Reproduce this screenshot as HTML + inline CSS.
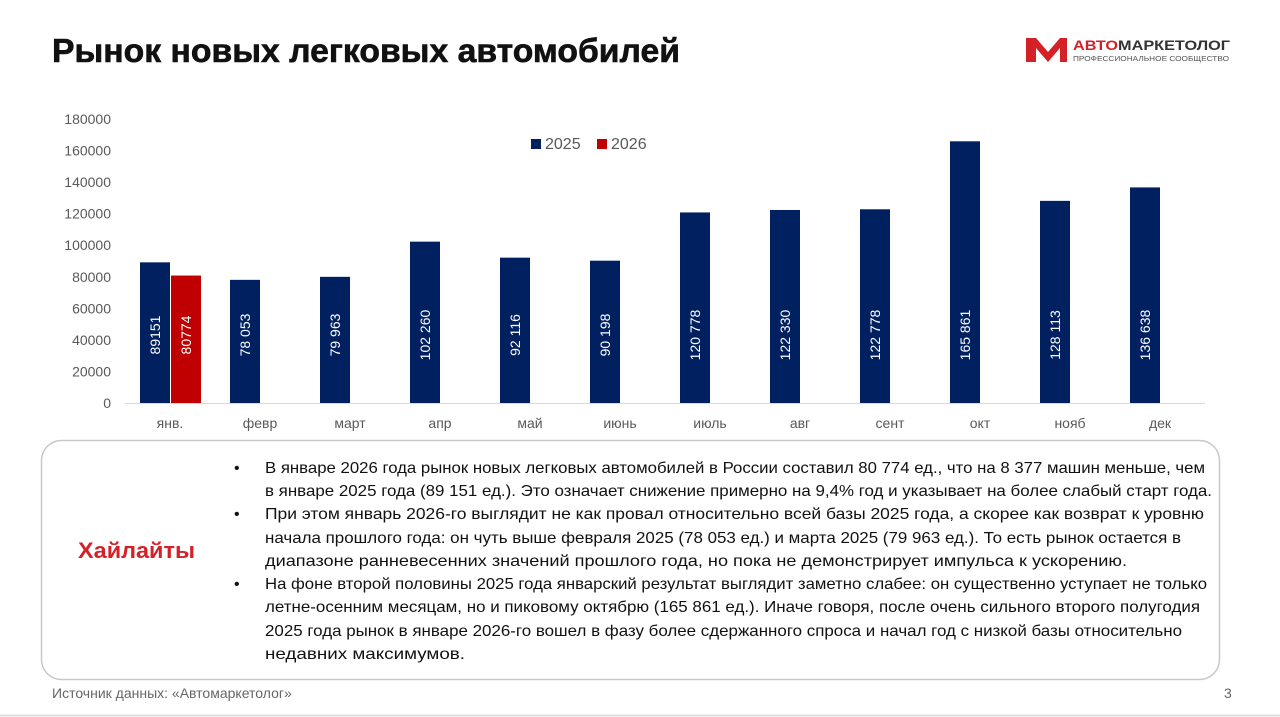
<!DOCTYPE html>
<html><head><meta charset="utf-8"><style>
html,body{margin:0;padding:0;background:#fff;}
svg{display:block;font-family:"Liberation Sans","DejaVu Sans",sans-serif;}
</style></head><body>
<svg id="s" width="1280" height="717" viewBox="0 0 1280 717" xmlns="http://www.w3.org/2000/svg">
<text x="52" y="62" font-size="33" font-weight="bold" fill="#111" stroke="#111" stroke-width="0.6" textLength="628" lengthAdjust="spacingAndGlyphs">Рынок новых легковых автомобилей</text>
<g>
<path d="M1026 38 L1036 38 L1048 52 L1060 38 L1067 38 L1067 62 L1060 62 L1060 48 L1048 62 L1036 48 L1036 62 L1026 62 Z" fill="#d42027"/>
<text x="1073" y="50" font-size="14" font-weight="bold" fill="#333" textLength="157" lengthAdjust="spacingAndGlyphs"><tspan fill="#d42027">АВТО</tspan>МАРКЕТОЛОГ</text>
<text x="1073" y="61" font-size="7" fill="#555" textLength="156" lengthAdjust="spacingAndGlyphs">ПРОФЕССИОНАЛЬНОЕ СООБЩЕСТВО</text>
</g>
<g id="chart"></g>
<rect x="41.5" y="440.5" width="1178" height="239" rx="20" fill="none" stroke="#c8c8c8" stroke-width="1.5"/>
<text x="78" y="558" font-size="22" font-weight="bold" fill="#d42027" textLength="117" lengthAdjust="spacingAndGlyphs">Хайлайты</text>
<g font-size="16" fill="#111">
<text x="234" y="473">•</text><text x="265" y="473" textLength="940" lengthAdjust="spacingAndGlyphs">В январе 2026 года рынок новых легковых автомобилей в России составил 80 774 ед., что на 8 377 машин меньше, чем</text>
<text x="265" y="496" textLength="947" lengthAdjust="spacingAndGlyphs">в январе 2025 года (89 151 ед.). Это означает снижение примерно на 9,4% год и указывает на более слабый старт года.</text>
<text x="234" y="519">•</text><text x="265" y="519" textLength="939" lengthAdjust="spacingAndGlyphs">При этом январь 2026-го выглядит не как провал относительно всей базы 2025 года, а скорее как возврат к уровню</text>
<text x="265" y="543" textLength="916" lengthAdjust="spacingAndGlyphs">начала прошлого года: он чуть выше февраля 2025 (78 053 ед.) и марта 2025 (79 963 ед.). То есть рынок остается в</text>
<text x="265" y="566" textLength="862" lengthAdjust="spacingAndGlyphs">диапазоне ранневесенних значений прошлого года, но пока не демонстрирует импульса к ускорению.</text>
<text x="234" y="589">•</text><text x="265" y="589" textLength="942" lengthAdjust="spacingAndGlyphs">На фоне второй половины 2025 года январский результат выглядит заметно слабее: он существенно уступает не только</text>
<text x="265" y="612" textLength="935" lengthAdjust="spacingAndGlyphs">летне-осенним месяцам, но и пиковому октябрю (165 861 ед.). Иначе говоря, после очень сильного второго полугодия</text>
<text x="265" y="636" textLength="917" lengthAdjust="spacingAndGlyphs">2025 года рынок в январе 2026-го вошел в фазу более сдержанного спроса и начал год с низкой базы относительно</text>
<text x="265" y="659" textLength="200" lengthAdjust="spacingAndGlyphs">недавних максимумов.</text>
</g>
<text x="52" y="698" font-size="14" fill="#666">Источник данных: «Автомаркетолог»</text>
<text x="1224" y="698" font-size="14" fill="#666">3</text>
<line x1="0" y1="715.5" x2="1280" y2="715.5" stroke="#ddd" stroke-width="2"/>
</svg>
<script>
const categories=["янв.","февр","март","апр","май","июнь","июль","авг","сент","окт","нояб","дек"];
const values2025=[89151,78053,79963,102260,92116,90198,120778,122330,122778,165861,128113,136638];
const labels2025=["89151","78 053","79 963","102 260","92 116","90 198","120 778","122 330","122 778","165 861","128 113","136 638"];
const values2026=[80774];
const labels2026=["80774"];
const yTicks=[0,20000,40000,60000,80000,100000,120000,140000,160000,180000];
const NS="http://www.w3.org/2000/svg";
const g=document.getElementById('chart');
const x0=125,x1=1205,y0=403,yTop=119,yMax=180000;
const band=(x1-x0)/categories.length;
const yS=v=>y0-(v/yMax)*(y0-yTop);
const xC=i=>x0+band*(i+0.5);
function mk(t,a){const e=document.createElementNS(NS,t);for(const k in a)e.setAttribute(k,a[k]);g.appendChild(e);return e;}
yTicks.forEach(t=>{const e=mk('text',{x:111,y:yS(t)+5,'text-anchor':'end','font-size':14,fill:'#595959'});e.textContent=t;

});
const ax=mk('line',{x1:x0,x2:x1,y1:y0+0.5,y2:y0+0.5,stroke:'#d9d9d9','stroke-width':1});


const bw=30;
function bar(i,v,lab,off,col,name){
 const x=xC(i)+off;
 const r=mk('rect',{x:x,y:yS(v),width:bw,height:y0-yS(v),fill:col});
 
 
 const cx=x+bw/2,cy=335;
 const t=mk('text',{x:cx,y:cy+5,'text-anchor':'middle','font-size':14,fill:'#fff',transform:`rotate(-90 ${cx} ${cy})`});
 t.textContent=lab;
 
 
}
categories.forEach((c,i)=>{
 bar(i,values2025[i],labels2025[i],-bw,'#002060','bar-2025');
 if(i<values2026.length) bar(i,values2026[i],labels2026[i],1,'#c00000','bar-2026');
 const t=mk('text',{x:xC(i),y:428,'text-anchor':'middle','font-size':14,fill:'#595959'});t.textContent=c;
 
 
});
[[531,'#002060','2025'],[597,'#c00000','2026']].forEach(([x,c,l])=>{
 const r=mk('rect',{x:x,y:139,width:10,height:10,fill:c});
 
 
 const t=mk('text',{x:x+14,y:149,'font-size':16,fill:'#595959'});t.textContent=l;
 
 
});
</script>
</body></html>
